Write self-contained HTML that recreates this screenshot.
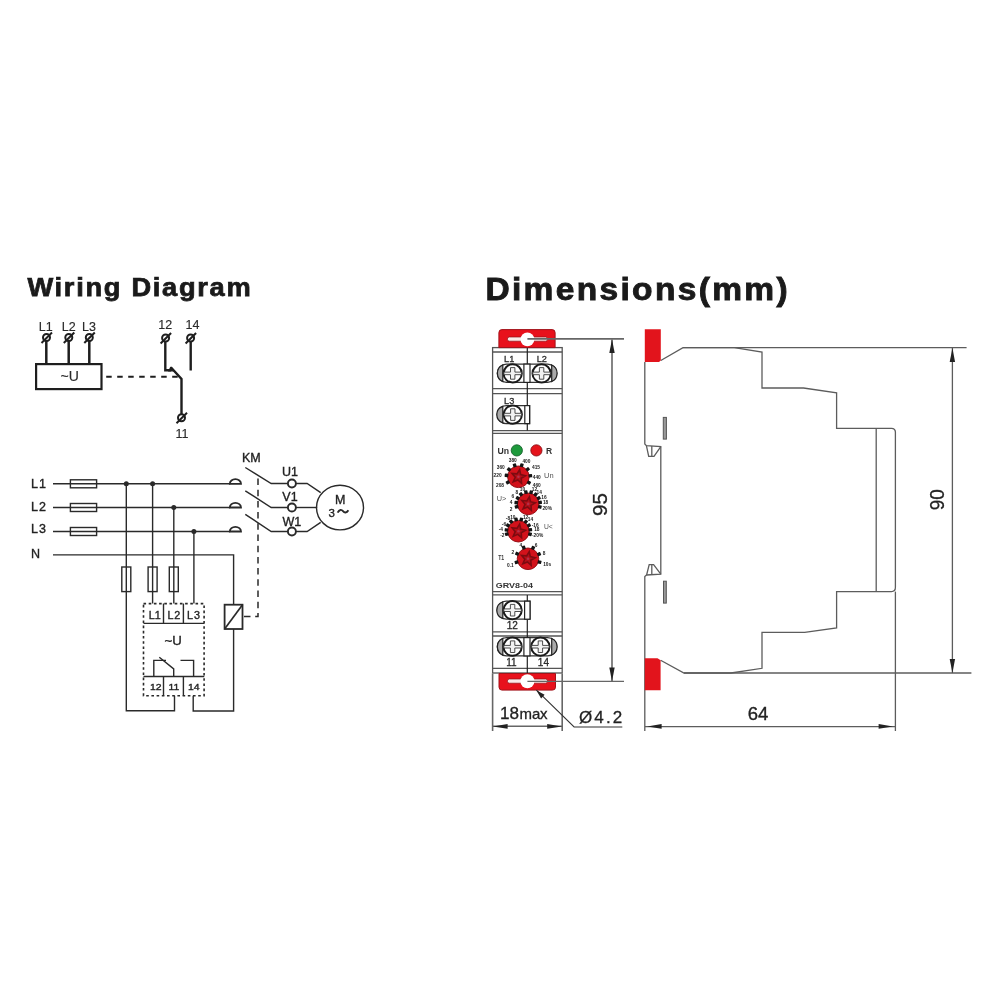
<!DOCTYPE html>
<html><head><meta charset="utf-8">
<style>
html,body{margin:0;padding:0;background:#fff;}
body{width:1001px;height:1001px;overflow:hidden;}
svg{display:block;will-change:transform;}
text{font-family:"Liberation Sans",sans-serif;}
</style></head>
<body>
<svg width="1001" height="1001" viewBox="0 0 1001 1001">
<rect width="1001" height="1001" fill="#fff"/>
<!-- Titles -->
<text x="27.4" y="295.6" font-size="25.5" font-weight="bold" fill="#1a1a1a" stroke="#1a1a1a" stroke-width="0.75" letter-spacing="1.6" textLength="225" lengthAdjust="spacingAndGlyphs">Wiring Diagram</text>
<text x="485.4" y="300.4" font-size="31.5" font-weight="bold" fill="#1a1a1a" stroke="#1a1a1a" stroke-width="0.9" letter-spacing="2.2" textLength="304.5" lengthAdjust="spacingAndGlyphs">Dimensions(mm)</text>

<!-- ============ WIRING TOP ============ -->
<g stroke="#1e1e1e" fill="none">
  <rect x="36.1" y="364.1" width="65.4" height="25" stroke-width="2.2"/>
  <line x1="46.3" y1="341" x2="46.3" y2="364" stroke-width="2.5"/>
  <line x1="68.7" y1="341" x2="68.7" y2="364" stroke-width="2.5"/>
  <line x1="89.3" y1="341" x2="89.3" y2="364" stroke-width="2.5"/>
  <line x1="106.2" y1="376.8" x2="178" y2="376.8" stroke-width="2" stroke-dasharray="5.5 5.5"/>
  <polyline points="165.3,341 165.3,370.3 171,370.3" stroke-width="2.4"/>
  <polyline points="170.8,367.3 181.5,379 181.5,414" stroke-width="2.4"/>
  <line x1="190.7" y1="341" x2="190.7" y2="370.5" stroke-width="2.4"/>
  <path d="M170.4,366.4 L174.6,371.4 L168,371.4 Z" fill="#1e1e1e" stroke="none"/>
</g>
<g stroke="#1e1e1e" fill="none" stroke-width="2">
  <circle cx="46.5" cy="337.5" r="3.5"/><line x1="41.5" y1="343" x2="52" y2="332.5"/>
  <circle cx="68.8" cy="337.5" r="3.5"/><line x1="63.8" y1="343" x2="74.3" y2="332.5"/>
  <circle cx="89.3" cy="337.5" r="3.5"/><line x1="84.3" y1="343" x2="94.8" y2="332.5"/>
  <circle cx="165.6" cy="338" r="3.5"/><line x1="160.6" y1="343.5" x2="171.1" y2="333"/>
  <circle cx="190.6" cy="338" r="3.5"/><line x1="185.6" y1="343.5" x2="196.1" y2="333"/>
  <circle cx="181.5" cy="417.8" r="3.5"/><line x1="176.5" y1="423.3" x2="187" y2="412.8"/>
</g>
<g fill="#2a2a2a" stroke="#2a2a2a" stroke-width="0.15" font-size="12.5">
  <text x="45.7" y="331" text-anchor="middle">L1</text>
  <text x="68.7" y="331" text-anchor="middle">L2</text>
  <text x="89" y="331" text-anchor="middle">L3</text>
  <text x="165.2" y="328.8" text-anchor="middle">12</text>
  <text x="192.5" y="328.8" text-anchor="middle">14</text>
  <text x="182" y="438" text-anchor="middle">11</text>
  <text x="69.7" y="381" text-anchor="middle" font-size="14">~U</text>
</g>

<!-- ============ WIRING BOTTOM ============ -->
<g stroke="#2a2a2a" fill="none" stroke-width="1.4">
  <line x1="53" y1="483.8" x2="230.3" y2="483.8"/>
  <line x1="53" y1="507.5" x2="230.3" y2="507.5"/>
  <line x1="53" y1="531.5" x2="230.3" y2="531.5"/>
  <polyline points="53,554.9 233.6,554.9 233.6,711 193.2,711 193.2,695.7"/>
  <rect x="70.4" y="479.8" width="26.2" height="8"/>
  <rect x="70.4" y="503.5" width="26.2" height="8"/>
  <rect x="70.4" y="527.5" width="26.2" height="8"/>
  <polyline points="126.3,483.8 126.3,710.8 174.5,710.8 174.5,695.7"/>
  <line x1="152.6" y1="483.8" x2="152.6" y2="603.5"/>
  <line x1="173.8" y1="507.5" x2="173.8" y2="603.5"/>
  <line x1="193.9" y1="531.5" x2="193.9" y2="603.5"/>
  <rect x="121.8" y="567" width="9" height="24.6"/>
  <rect x="148.1" y="567" width="9" height="24.6"/>
  <rect x="169.3" y="567" width="9" height="24.6"/>
  <path d="M229.8,483.8 A5.6,4.7 0 0 1 241,483.8 Z" stroke-width="1.8"/>
  <path d="M229.8,507.5 A5.6,4.7 0 0 1 241,507.5 Z" stroke-width="1.8"/>
  <path d="M229.8,531.5 A5.6,4.7 0 0 1 241,531.5 Z" stroke-width="1.8"/>
  <polyline points="245.3,467.5 271.2,483.5 287.9,483.5"/>
  <polyline points="245.3,490.8 271.2,507.5 287.9,507.5"/>
  <polyline points="245.3,514.3 271.2,531.5 287.9,531.5"/>
  <polyline points="295.9,483.5 307.1,483.5 320.7,492.7"/>
  <line x1="295.9" y1="507.5" x2="317.2" y2="507.5"/>
  <polyline points="295.9,531.5 307.1,531.5 320.7,522.3"/>
  <circle cx="291.9" cy="483.5" r="4" stroke-width="1.9"/>
  <circle cx="291.9" cy="507.5" r="4" stroke-width="1.9"/>
  <circle cx="291.9" cy="531.5" r="4" stroke-width="1.9"/>
  <ellipse cx="340" cy="507.6" rx="23.5" ry="22.3"/>
  <path d="M337.6,512.6 C339.4,509.2 341.6,509.4 343,511.2 C344.4,513 346.6,513.2 348.4,510.2" stroke-width="1.9"/>
  <polyline points="258,476 258,616.6 242.5,616.6" stroke-width="1.5" stroke-dasharray="6.5 4.7" stroke-dashoffset="8.7"/>
  <rect x="224.6" y="604.7" width="17.9" height="24.3" fill="#fff" stroke-width="1.8"/>
  <line x1="224.6" y1="629" x2="242.5" y2="604.7" stroke-width="1.7"/>
  <rect x="143.5" y="603.6" width="60.6" height="92.1" stroke-width="1.6" stroke-dasharray="2.6 2.6"/>
  <line x1="143.5" y1="623.4" x2="204.3" y2="623.4"/>
  <line x1="143.5" y1="676.5" x2="204.3" y2="676.5"/>
  <line x1="163.5" y1="603.5" x2="163.5" y2="623.4"/>
  <line x1="183.4" y1="603.5" x2="183.4" y2="623.4"/>
  <line x1="163.5" y1="676.5" x2="163.5" y2="695.7"/>
  <line x1="183.4" y1="676.5" x2="183.4" y2="695.7"/>
  <polyline points="153.8,676.5 153.8,660.4 166,660.4"/>
  <polyline points="159.3,657.3 173.7,668.9 173.7,676.5"/>
  <polyline points="180.5,660.4 193.6,660.4 193.6,676.5"/>
</g>
<g fill="#2a2a2a">
  <circle cx="126.3" cy="483.8" r="2.5"/>
  <circle cx="152.6" cy="483.8" r="2.5"/>
  <circle cx="173.8" cy="507.5" r="2.5"/>
  <circle cx="193.9" cy="531.5" r="2.5"/>
</g>
<g fill="#222" stroke="#222" stroke-width="0.35" font-size="12.5">
  <text x="31" y="488" textLength="15" lengthAdjust="spacing">L1</text>
  <text x="31" y="510.9" textLength="15" lengthAdjust="spacing">L2</text>
  <text x="31" y="533.2" textLength="15" lengthAdjust="spacing">L3</text>
  <text x="31" y="557.9">N</text>
  <text x="251.3" y="461.6" text-anchor="middle">KM</text>
  <text x="290" y="475.5" text-anchor="middle">U1</text>
  <text x="290" y="500.7" text-anchor="middle">V1</text>
  <text x="291.9" y="525.5" text-anchor="middle">W1</text>
  <text x="340.2" y="504" text-anchor="middle">M</text>
  <text x="328.6" y="516.7" font-size="11.5">3</text>
  <text x="148.7" y="618.6" font-size="10.8" textLength="12" lengthAdjust="spacing">L1</text>
  <text x="167.4" y="618.6" font-size="10.8" textLength="12.8" lengthAdjust="spacing">L2</text>
  <text x="186.9" y="618.6" font-size="10.8" textLength="13" lengthAdjust="spacing">L3</text>
  <text x="173.2" y="644.8" text-anchor="middle" font-size="13.2">~U</text>
  <text x="149.9" y="689.8" font-size="9.6" textLength="11.6" lengthAdjust="spacingAndGlyphs">12</text>
  <text x="168.4" y="689.8" font-size="9.6" textLength="10.8" lengthAdjust="spacingAndGlyphs">11</text>
  <text x="188" y="689.8" font-size="9.6" textLength="11.6" lengthAdjust="spacingAndGlyphs">14</text>
</g>

<!-- ============ DIMENSIONS FRONT ============ -->
<defs>
  <g id="scr">
    <circle cx="0" cy="0" r="9.1" fill="#fff" stroke="#1a1a1a" stroke-width="2"/>
    <path d="M-8.8,-1.3 H-2.2 V-5.8 H2.2 V-1.3 H8.8 V1.3 H2.2 V5.8 H-2.2 V1.3 H-8.8 Z" fill="#f2f2f2" stroke="#3a3a3a" stroke-width="0.9"/>
  </g>
  <g id="arrU"><path d="M0,0 L-2.6,12 L2.6,12 Z" fill="#222"/></g>
</defs>
<g stroke="#555" fill="none" stroke-width="1.3">
  <rect x="492.6" y="347.6" width="69.6" height="325.4"/>
  <line x1="492.6" y1="352" x2="562.2" y2="352"/>
  <line x1="492.6" y1="388.6" x2="562.2" y2="388.6"/>
  <line x1="492.6" y1="393.6" x2="562.2" y2="393.6"/>
  <line x1="492.6" y1="430.6" x2="562.2" y2="430.6"/>
  <line x1="492.6" y1="433.4" x2="562.2" y2="433.4"/>
  <line x1="492.6" y1="591.7" x2="562.2" y2="591.7"/>
  <line x1="492.6" y1="594.9" x2="562.2" y2="594.9"/>
  <line x1="492.6" y1="631.8" x2="562.2" y2="631.8"/>
  <line x1="492.6" y1="636" x2="562.2" y2="636"/>
  <line x1="492.6" y1="668.3" x2="562.2" y2="668.3"/>
</g>
<g stroke="#222" fill="none" stroke-width="1.2">
  <line x1="527.3" y1="347.6" x2="527.3" y2="430.6"/>
  <line x1="527.3" y1="594.9" x2="527.3" y2="673.5"/>
</g>
<!-- terminals L1 L2 -->
<g>
  <path d="M506.4,364.1 H547.6 A9.15,9.15 0 0 1 547.6,382.4 H506.4 A9.15,9.15 0 0 1 506.4,364.1 Z" fill="#fff" stroke="#333" stroke-width="1.3"/>
  <path d="M502.8,365 A9,9 0 0 0 502.8,381.5 Z" fill="#aaa" stroke="#222" stroke-width="1.2"/>
  <path d="M551.7,365 A9,9 0 0 1 551.7,381.5 Z" fill="#aaa" stroke="#222" stroke-width="1.2"/>
  <rect x="523.9" y="364.1" width="6.1" height="18.3" fill="#fff" stroke="#222" stroke-width="1.2"/>
  <use href="#scr" x="512.7" y="373.4"/>
  <use href="#scr" x="541.6" y="373.4"/>
</g>
<!-- terminal L3 -->
<g>
  <path d="M529.6,405.6 H506.2 A9,9 0 0 0 506.2,423.6 H529.6 Z" fill="#fff" stroke="#333" stroke-width="1.3"/>
  <path d="M502.8,406.4 A8.6,8.6 0 0 0 502.8,422.8 Z" fill="#aaa" stroke="#222" stroke-width="1.2"/>
  <rect x="524.8" y="405.6" width="4.8" height="18" fill="#fff" stroke="#222" stroke-width="1.2"/>
  <use href="#scr" x="512.8" y="414.6"/>
</g>
<!-- terminal 12 -->
<g>
  <path d="M530,601.2 H506.2 A9,9 0 0 0 506.2,619.2 H530 Z" fill="#fff" stroke="#333" stroke-width="1.3"/>
  <path d="M502.8,602 A8.6,8.6 0 0 0 502.8,618.4 Z" fill="#aaa" stroke="#222" stroke-width="1.2"/>
  <rect x="524.6" y="601.2" width="5.4" height="18" fill="#fff" stroke="#222" stroke-width="1.2"/>
  <use href="#scr" x="512.6" y="610.2"/>
</g>
<!-- terminals 11 14 -->
<g>
  <path d="M506.4,637.6 H547.6 A9.15,9.15 0 0 1 547.6,655.9 H506.4 A9.15,9.15 0 0 1 506.4,637.6 Z" fill="#fff" stroke="#333" stroke-width="1.3"/>
  <path d="M502.8,638.5 A9,9 0 0 0 502.8,655 Z" fill="#aaa" stroke="#222" stroke-width="1.2"/>
  <path d="M551.7,638.5 A9,9 0 0 1 551.7,655 Z" fill="#aaa" stroke="#222" stroke-width="1.2"/>
  <rect x="523.9" y="637.6" width="6.1" height="18.3" fill="#fff" stroke="#222" stroke-width="1.2"/>
  <use href="#scr" x="512.6" y="646.7"/>
  <use href="#scr" x="540.4" y="646.7"/>
</g>
<g fill="#2a2a2a" stroke="#2a2a2a" stroke-width="0.3" font-size="10">
  <text x="509.2" y="362.4" text-anchor="middle" font-size="9.2">L1</text>
  <text x="541.8" y="362.4" text-anchor="middle" font-size="9.2">L2</text>
  <text x="509.2" y="403.7" text-anchor="middle" font-size="9.2">L3</text>
  <text x="512.3" y="628.8" text-anchor="middle">12</text>
  <text x="511.4" y="666" text-anchor="middle">11</text>
  <text x="543.4" y="666" text-anchor="middle">14</text>
</g>
<!-- red tabs -->
<path d="M498.9,347.6 V332.6 A3,3 0 0 1 501.9,329.6 H552.1 A3,3 0 0 1 555.1,332.6 V347.6 Z" fill="#e8111c" stroke="#a3121a" stroke-width="1"/>
<rect x="507.4" y="337" width="40.2" height="4.2" rx="2" fill="#fbeaea" stroke="#8d1016" stroke-width="0.7"/>
<circle cx="527.4" cy="339.4" r="6.9" fill="#fff"/>
<path d="M499,673.5 V687.1 A3,3 0 0 0 502,690.1 H552.5 A3,3 0 0 0 555.5,687.1 V673.5 Z" fill="#e8111c" stroke="#a3121a" stroke-width="1"/>
<rect x="507.4" y="679" width="40.2" height="4.2" rx="2" fill="#fbeaea" stroke="#8d1016" stroke-width="0.7"/>
<circle cx="527.4" cy="681.2" r="7" fill="#fff"/>
<!-- LEDs -->
<circle cx="516.8" cy="450.4" r="5.6" fill="#1e9a3c" stroke="#14602a" stroke-width="0.9"/>
<circle cx="536.4" cy="450.4" r="5.6" fill="#e5141c" stroke="#8a1015" stroke-width="0.9"/>
<g fill="#333" font-weight="bold">
  <text x="497.6" y="453.8" font-size="8.5" textLength="11.6" lengthAdjust="spacingAndGlyphs">Un</text>
  <text x="546" y="453.8" font-size="8.5">R</text>
  <text x="495.8" y="588" font-size="7.6" textLength="37.2" lengthAdjust="spacingAndGlyphs">GRV8-04</text>
</g>

<!-- knobs -->
<g transform="translate(518.4,476.8)">
  <circle r="10.8" fill="#d2121b" stroke="#8e0b12" stroke-width="0.9"/>
  <path d="M1.25,-7.09 L2.30,-2.22 L7.13,-1.00 L2.83,1.50 L3.16,6.47 L-0.56,3.15 L-5.18,5.00 L-3.17,0.45 L-6.36,-3.38 L-1.40,-2.88 Z" fill="#b00e18" stroke="#6e0a0f" stroke-width="1.6" opacity="0.85"/>
  <circle r="1.3" fill="#b4304a"/>
  <rect x="10.20" y="-1.7" width="3.6" height="3.4" rx="0.6" fill="#151515" transform="rotate(152)"/>
  <rect x="10.20" y="-1.7" width="3.6" height="3.4" rx="0.6" fill="#151515" transform="rotate(187)"/>
  <rect x="10.20" y="-1.7" width="3.6" height="3.4" rx="0.6" fill="#151515" transform="rotate(218)"/>
  <rect x="10.20" y="-1.7" width="3.6" height="3.4" rx="0.6" fill="#151515" transform="rotate(252)"/>
  <rect x="10.20" y="-1.7" width="3.6" height="3.4" rx="0.6" fill="#151515" transform="rotate(286)"/>
  <rect x="10.20" y="-1.7" width="3.6" height="3.4" rx="0.6" fill="#151515" transform="rotate(321)"/>
  <rect x="10.20" y="-1.7" width="3.6" height="3.4" rx="0.6" fill="#151515" transform="rotate(355)"/>
  <rect x="10.20" y="-1.7" width="3.6" height="3.4" rx="0.6" fill="#151515" transform="rotate(29)"/>
</g>
<g transform="translate(528.2,503.9)">
  <circle r="10.8" fill="#d2121b" stroke="#8e0b12" stroke-width="0.9"/>
  <path d="M1.25,-7.09 L2.30,-2.22 L7.13,-1.00 L2.83,1.50 L3.16,6.47 L-0.56,3.15 L-5.18,5.00 L-3.17,0.45 L-6.36,-3.38 L-1.40,-2.88 Z" fill="#b00e18" stroke="#6e0a0f" stroke-width="1.6" opacity="0.85"/>
  <circle r="1.3" fill="#b4304a"/>
  <rect x="10.20" y="-1.7" width="3.6" height="3.4" rx="0.6" fill="#151515" transform="rotate(166)"/>
  <rect x="10.20" y="-1.7" width="3.6" height="3.4" rx="0.6" fill="#151515" transform="rotate(186)"/>
  <rect x="10.20" y="-1.7" width="3.6" height="3.4" rx="0.6" fill="#151515" transform="rotate(209)"/>
  <rect x="10.20" y="-1.7" width="3.6" height="3.4" rx="0.6" fill="#151515" transform="rotate(233)"/>
  <rect x="10.20" y="-1.7" width="3.6" height="3.4" rx="0.6" fill="#151515" transform="rotate(259)"/>
  <rect x="10.20" y="-1.7" width="3.6" height="3.4" rx="0.6" fill="#151515" transform="rotate(284)"/>
  <rect x="10.20" y="-1.7" width="3.6" height="3.4" rx="0.6" fill="#151515" transform="rotate(308)"/>
  <rect x="10.20" y="-1.7" width="3.6" height="3.4" rx="0.6" fill="#151515" transform="rotate(331)"/>
  <rect x="10.20" y="-1.7" width="3.6" height="3.4" rx="0.6" fill="#151515" transform="rotate(353)"/>
  <rect x="10.20" y="-1.7" width="3.6" height="3.4" rx="0.6" fill="#151515" transform="rotate(14.5)"/>
</g>
<g transform="translate(518.4,531.2)">
  <circle r="10.8" fill="#d2121b" stroke="#8e0b12" stroke-width="0.9"/>
  <path d="M1.25,-7.09 L2.30,-2.22 L7.13,-1.00 L2.83,1.50 L3.16,6.47 L-0.56,3.15 L-5.18,5.00 L-3.17,0.45 L-6.36,-3.38 L-1.40,-2.88 Z" fill="#b00e18" stroke="#6e0a0f" stroke-width="1.6" opacity="0.85"/>
  <circle r="1.3" fill="#b4304a"/>
  <rect x="10.20" y="-1.7" width="3.6" height="3.4" rx="0.6" fill="#151515" transform="rotate(166)"/>
  <rect x="10.20" y="-1.7" width="3.6" height="3.4" rx="0.6" fill="#151515" transform="rotate(186)"/>
  <rect x="10.20" y="-1.7" width="3.6" height="3.4" rx="0.6" fill="#151515" transform="rotate(209)"/>
  <rect x="10.20" y="-1.7" width="3.6" height="3.4" rx="0.6" fill="#151515" transform="rotate(233)"/>
  <rect x="10.20" y="-1.7" width="3.6" height="3.4" rx="0.6" fill="#151515" transform="rotate(259)"/>
  <rect x="10.20" y="-1.7" width="3.6" height="3.4" rx="0.6" fill="#151515" transform="rotate(284)"/>
  <rect x="10.20" y="-1.7" width="3.6" height="3.4" rx="0.6" fill="#151515" transform="rotate(308)"/>
  <rect x="10.20" y="-1.7" width="3.6" height="3.4" rx="0.6" fill="#151515" transform="rotate(331)"/>
  <rect x="10.20" y="-1.7" width="3.6" height="3.4" rx="0.6" fill="#151515" transform="rotate(353)"/>
  <rect x="10.20" y="-1.7" width="3.6" height="3.4" rx="0.6" fill="#151515" transform="rotate(14.5)"/>
</g>
<g transform="translate(528.0,558.8)">
  <circle r="10.8" fill="#d2121b" stroke="#8e0b12" stroke-width="0.9"/>
  <path d="M1.25,-7.09 L2.30,-2.22 L7.13,-1.00 L2.83,1.50 L3.16,6.47 L-0.56,3.15 L-5.18,5.00 L-3.17,0.45 L-6.36,-3.38 L-1.40,-2.88 Z" fill="#b00e18" stroke="#6e0a0f" stroke-width="1.6" opacity="0.85"/>
  <circle r="1.3" fill="#b4304a"/>
  <rect x="10.20" y="-1.7" width="3.6" height="3.4" rx="0.6" fill="#151515" transform="rotate(163)"/>
  <rect x="10.20" y="-1.7" width="3.6" height="3.4" rx="0.6" fill="#151515" transform="rotate(205)"/>
  <rect x="10.20" y="-1.7" width="3.6" height="3.4" rx="0.6" fill="#151515" transform="rotate(249)"/>
  <rect x="10.20" y="-1.7" width="3.6" height="3.4" rx="0.6" fill="#151515" transform="rotate(295)"/>
  <rect x="10.20" y="-1.7" width="3.6" height="3.4" rx="0.6" fill="#151515" transform="rotate(337)"/>
  <rect x="10.20" y="-1.7" width="3.6" height="3.4" rx="0.6" fill="#151515" transform="rotate(16)"/>
</g>
<g fill="#1a1a1a" font-size="4.8" font-weight="bold" text-anchor="middle">
  <text x="512.8" y="461.7">380</text>
  <text x="526.4" y="462.5">400</text>
  <text x="500.8" y="468.9">360</text>
  <text x="536" y="468.9">415</text>
  <text x="497.6" y="476.9">220</text>
  <text x="536.8" y="478.5">440</text>
  <text x="500" y="486.5">208</text>
  <text x="536.8" y="487.3">460</text>
  <text x="516.8" y="494.4">8</text>
  <text x="522.4" y="491.3">10</text>
  <text x="534.4" y="490.5">12</text>
  <text x="539.2" y="493.7">14</text>
  <text x="512.8" y="497.7">6</text>
  <text x="511.2" y="504.1">4</text>
  <text x="511.2" y="510.5">2</text>
  <text x="544" y="499.3">16</text>
  <text x="545.6" y="504.1">18</text>
  <text x="547.2" y="509.7">20%</text>
  <text x="512.8" y="518.5">10</text>
  <text x="525.6" y="518.5">12</text>
  <text x="530.4" y="520.9">14</text>
  <text x="508" y="520.1">-8</text>
  <text x="504" y="525.7">-6</text>
  <text x="500.8" y="531.3">-4</text>
  <text x="502.4" y="536.9">-2</text>
  <text x="535.2" y="526.5">-16</text>
  <text x="536.8" y="531.3">18</text>
  <text x="537.6" y="536.9">-20%</text>
  <text x="520.8" y="546.5">4</text>
  <text x="536" y="546.5">6</text>
  <text x="512.8" y="553.7">2</text>
  <text x="544" y="555.3">8</text>
  <text x="510.4" y="566.5">0.1</text>
  <text x="547.2" y="565.7">10s</text>
</g>
<g fill="#555" font-size="7.2">
  <text x="544" y="478.2" textLength="9.6" lengthAdjust="spacingAndGlyphs">Un</text>
  <text x="496.8" y="501" textLength="9.6" lengthAdjust="spacingAndGlyphs">U&gt;</text>
  <text x="544" y="529" textLength="8.8" lengthAdjust="spacingAndGlyphs">U&lt;</text>
  <text x="498.2" y="560.2" font-weight="bold" fill="#3a3a3a" textLength="6" lengthAdjust="spacingAndGlyphs">T1</text>
</g>
<!-- dims front -->
<g stroke="#666" stroke-width="1.6" fill="none">
  <line x1="527.4" y1="338.9" x2="624" y2="338.9"/>
  <line x1="527.4" y1="681.3" x2="624" y2="681.3" stroke-width="1.2"/>
  <line x1="612" y1="339.4" x2="612" y2="681.2"/>
  <line x1="492.6" y1="673.5" x2="492.6" y2="731"/>
  <line x1="562.2" y1="673.5" x2="562.2" y2="731"/>
  <line x1="492.6" y1="726.3" x2="562.2" y2="726.3"/>
  <polyline points="536.4,690.2 574.1,727 622.3,727" stroke="#333" stroke-width="1.1"/>
</g>
<g fill="#222">
  <path d="M612,339.2 L609.3,353 L614.7,353 Z"/>
  <path d="M612,681.2 L609.3,667.4 L614.7,667.4 Z"/>
  <path d="M492.8,726.4 L507.6,724 L507.6,728.8 Z"/>
  <path d="M562,726.4 L547.2,724 L547.2,728.8 Z"/>
  <path d="M536.4,690.2 L541.1,698.4 L544.6,694.8 Z"/>
</g>
<g fill="#222">
  <text x="0" y="0" font-size="20.5" transform="translate(606.8,504.6) rotate(-90)" text-anchor="middle" stroke="#222" stroke-width="0.3">95</text>
  <text x="500" y="718.6" font-size="17.4" textLength="19" lengthAdjust="spacingAndGlyphs" stroke="#222" stroke-width="0.3">18</text><text x="519.6" y="718.6" font-size="15" textLength="28" lengthAdjust="spacing" stroke="#222" stroke-width="0.3">max</text>
  <text x="579" y="723" font-size="17" textLength="43.3" lengthAdjust="spacing" stroke="#222" stroke-width="0.3">Ø4.2</text>
</g>

<!-- ============ SIDE VIEW ============ -->
<g stroke="#5c5c5c" stroke-width="1.3" fill="none">
  <polyline points="644.8,362 644.8,444 646.4,445.6 660.8,446.6 660.8,574.2 646.6,575 644.8,576.6 644.8,731"/>
  <polyline points="646.4,445.6 648.7,456.3 654,456.3 660.8,446.6"/>
  <line x1="651.8" y1="446" x2="651.8" y2="456.3"/>
  <polyline points="646.6,575 649.2,564.6 653.6,564.6 660.8,574.2"/>
  <line x1="651.8" y1="564.6" x2="651.8" y2="575"/>
  <path d="M660.8,360.5 L683,347.7 L734.3,347.7 L762,352 L762,388 L803.5,388 L836.6,392.8 L836.6,428.3 L891.4,428.3 Q895.4,428.3 895.4,432.3 L895.4,587.6 Q895.4,591.6 891.4,591.6 L836.6,591.6 L836.6,628 L804.7,632.4 L762,632.4 L762,668.3 L731,673 L684,673 L660.6,660.2"/>
  <line x1="683" y1="347.7" x2="966.6" y2="347.7"/>
  <line x1="684" y1="673" x2="971.4" y2="673"/>
  <line x1="876.2" y1="428.3" x2="876.2" y2="591.6"/>
  <line x1="895.4" y1="591.6" x2="895.4" y2="731"/>
  <line x1="952.4" y1="347.7" x2="952.4" y2="673"/>
  <line x1="645" y1="726.6" x2="895.4" y2="726.6"/>
</g>
<path d="M644.8,362 V329.3 H660.8 V360.5 L659,362 Z" fill="#e2141c"/>
<path d="M644.8,658.3 H657.5 L660.6,660.2 V690.3 H644.8 Z" fill="#e2141c"/>
<g fill="#999" stroke="#555" stroke-width="1">
  <rect x="663.3" y="417.4" width="3.1" height="21.7"/>
  <rect x="663.5" y="581.2" width="2.8" height="21.9"/>
</g>
<g fill="#222">
  <path d="M952.4,347.9 L949.7,362 L955.1,362 Z"/>
  <path d="M952.4,673 L949.7,659 L955.1,659 Z"/>
  <path d="M647.2,726.4 L661.6,724.1 L661.6,728.7 Z"/>
  <path d="M893,726.4 L878.6,724.1 L878.6,728.7 Z"/>
  <text x="0" y="0" font-size="20.5" transform="translate(943.8,499.7) rotate(-90)" text-anchor="middle" textLength="21" lengthAdjust="spacingAndGlyphs" stroke="#222" stroke-width="0.3">90</text>
  <text x="758" y="720" font-size="18.5" text-anchor="middle" stroke="#222" stroke-width="0.35">64</text>
</g>
</svg>
</body></html>
